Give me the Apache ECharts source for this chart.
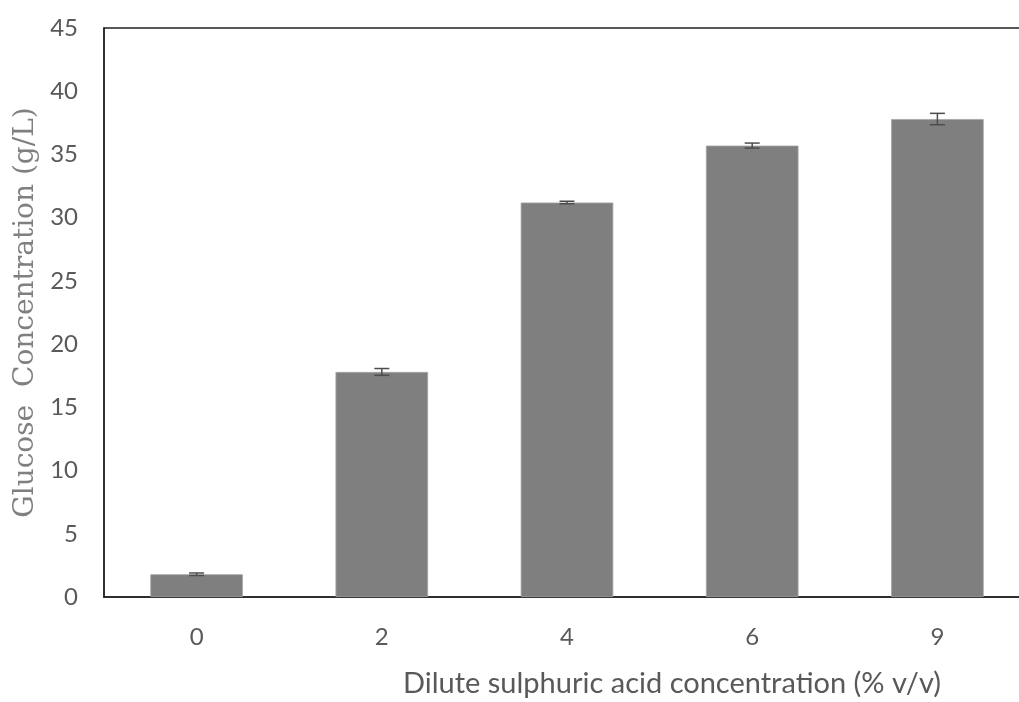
<!DOCTYPE html>
<html>
<head>
<meta charset="utf-8">
<script src="https://cdn.jsdelivr.net/npm/echarts@6/dist/echarts.min.js"></script>
<style>
  html, body { margin: 0; padding: 0; background: #fff; }
  #chart { width: 1019px; height: 702px; }
</style>
</head>
<body>
<div id="chart"></div>
<script>
// acid concentration (% v/v)
const categories = ["0", "2", "4", "6", "9"];
// glucose concentration (g/L)
const glucose = [1.8, 17.8, 31.2, 35.7, 37.8];
const errors = [0.1, 0.27, 0.1, 0.2, 0.45];
const yTicks = [0, 5, 10, 15, 20, 25, 30, 35, 40, 45];

const chart = echarts.init(document.getElementById("chart"));

const errorData = glucose.map((v, i) => [i, v - errors[i], v + errors[i]]);

const option = {
  animation: false,
  grid: {
    left: 104,
    right: -11,
    top: 28,
    bottom: 105,
    outerBoundsMode: "none",
    containLabel: false,
    show: true,
    borderColor: "#222",
    borderWidth: 1.5,
  },
  xAxis: {
    type: "category",
    data: categories,
    name: "Dilute sulphuric acid concentration (% v/v)",
    nameLocation: "middle",
    nameGap: 72,
    nameTextStyle: {
      fontFamily: "Lato",
      fontSize: 29,
      color: "#595959",
      padding: [0, 0, 0, 210],
    },
    axisLine: { lineStyle: { color: "#222", width: 1.5 } },
    axisTick: { show: false },
    axisLabel: {
      fontFamily: "Lato",
      fontSize: 24,
      color: "#595959",
      margin: 28,
    },
  },
  yAxis: {
    type: "value",
    min: yTicks[0],
    max: yTicks[yTicks.length - 1],
    interval: 5,
    name: "Glucose  Concentration (g/L)",
    nameLocation: "middle",
    nameGap: 62,
    nameTextStyle: {
      fontFamily: "DejaVu Serif",
      fontSize: 28,
      color: "#808080",
    },
    splitLine: { show: false },
    axisLine: { show: true, lineStyle: { color: "#222", width: 1.5 } },
    axisTick: { show: false },
    axisLabel: {
      fontFamily: "Lato",
      fontSize: 24,
      color: "#595959",
      margin: 26,
    },
  },
  series: [
    {
      type: "bar",
      data: glucose,
      barWidth: "50%",
      itemStyle: { color: "#7f7f7f", borderColor: "#a6a6a6", borderWidth: 0.8 },
    },
    {
      type: "custom",
      data: errorData,
      z: 10,
      renderItem: function (params, api) {
        const x = api.value(0);
        const lo = api.coord([x, api.value(1)]);
        const hi = api.coord([x, api.value(2)]);
        const cap = 7.5;
        const style = { stroke: "#4d4d4d", lineWidth: 1.5 };
        return {
          type: "group",
          children: [
            { type: "line", shape: { x1: lo[0], y1: lo[1], x2: hi[0], y2: hi[1] }, style },
            { type: "line", shape: { x1: lo[0] - cap, y1: lo[1], x2: lo[0] + cap, y2: lo[1] }, style },
            { type: "line", shape: { x1: hi[0] - cap, y1: hi[1], x2: hi[0] + cap, y2: hi[1] }, style },
          ],
        };
      },
    },
  ],
};

chart.setOption(option);
</script>
</body>
</html>
